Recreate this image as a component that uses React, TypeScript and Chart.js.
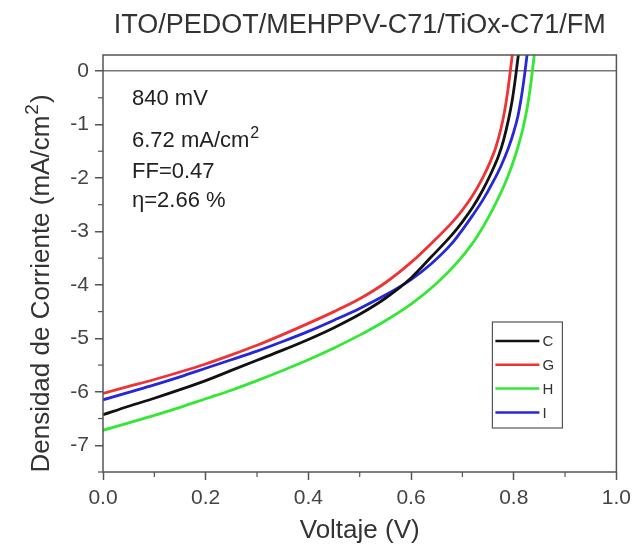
import React, { useEffect, useRef } from "react";
import { Chart, registerables } from "chart.js";

Chart.register(...registerables);

const FONT = "'Liberation Sans', Arial, Helvetica, sans-serif";

const titleText = "ITO/PEDOT/MEHPPV-C71/TiOx-C71/FM";
const xTitle = "Voltaje (V)";
const yTitleMain = "Densidad de Corriente (mA/cm";
const annotations = ["840 mV", "6.72 mA/cm", "FF=0.47", "\u03b7=2.66 %"];

const xTicks = [0, 0.2, 0.4, 0.6, 0.8, 1.0];
const xMinor = [0.1, 0.3, 0.5, 0.7, 0.9];
const yTicks = [-7, -6, -5, -4, -3, -2, -1, 0];
const yMinor = [-7.5, -6.5, -5.5, -4.5, -3.5, -2.5, -1.5, -0.5];

const labels = ["C", "G", "H", "I"];
const colors = ["#111111", "#f03232", "#33e833", "#2626dc"];

const vC = [0, 0.05, 0.1, 0.15, 0.2, 0.25, 0.3, 0.35, 0.4, 0.45, 0.5, 0.55, 0.6, 0.64, 0.68, 0.7, 0.72, 0.74, 0.755, 0.77, 0.78, 0.79, 0.797, 0.804, 0.81, 0.816];
const jC = [-6.43, -6.27, -6.12, -5.96, -5.79, -5.6, -5.41, -5.22, -5.02, -4.8, -4.55, -4.25, -3.87, -3.47, -3.06, -2.82, -2.55, -2.22, -1.93, -1.6, -1.3, -0.9, -0.55, -0.08, 0.38, 0.85];

const vG = [0, 0.05, 0.1, 0.15, 0.2, 0.25, 0.3, 0.35, 0.4, 0.45, 0.5, 0.55, 0.6, 0.64, 0.68, 0.7, 0.72, 0.74, 0.755, 0.765, 0.775, 0.782, 0.788, 0.794, 0.8];
const jG = [-6.03, -5.9, -5.77, -5.63, -5.48, -5.31, -5.13, -4.93, -4.72, -4.5, -4.26, -3.96, -3.58, -3.22, -2.83, -2.6, -2.33, -1.99, -1.68, -1.43, -1.08, -0.76, -0.4, 0.05, 0.52];

const vH = [0, 0.05, 0.1, 0.15, 0.2, 0.25, 0.3, 0.35, 0.4, 0.45, 0.5, 0.55, 0.6, 0.65, 0.69, 0.72, 0.74, 0.76, 0.78, 0.795, 0.808, 0.818, 0.826, 0.833, 0.839, 0.845];
const jH = [-6.72, -6.58, -6.44, -6.29, -6.13, -5.97, -5.79, -5.6, -5.4, -5.18, -4.94, -4.67, -4.36, -3.97, -3.58, -3.22, -2.92, -2.57, -2.17, -1.81, -1.43, -1.07, -0.7, -0.26, 0.22, 0.7];

const vI = [0, 0.05, 0.1, 0.15, 0.2, 0.25, 0.3, 0.35, 0.4, 0.45, 0.5, 0.55, 0.6, 0.64, 0.68, 0.7, 0.72, 0.74, 0.76, 0.775, 0.79, 0.8, 0.808, 0.815, 0.821, 0.827, 0.833];
const jI = [-6.15, -6.01, -5.87, -5.72, -5.56, -5.4, -5.24, -5.06, -4.87, -4.66, -4.44, -4.19, -3.9, -3.6, -3.22, -2.97, -2.7, -2.41, -2.07, -1.78, -1.43, -1.14, -0.85, -0.48, -0.08, 0.38, 0.85];

const seriesV = [vC, vG, vH, vI];
const seriesJ = [jC, jG, jH, jI];

function drawRich(ctx: CanvasRenderingContext2D, x: number, y: number, main: string, sup: string, tail: string, size: number) {
  ctx.font = `${size}px ${FONT}`;
  const w1 = ctx.measureText(main).width;
  ctx.fillText(main, x, y);
  const supSize = Math.round(size * 0.72);
  ctx.font = `${supSize}px ${FONT}`;
  const w2 = ctx.measureText(sup).width;
  ctx.fillText(sup, x + w1 + 1, y - size * 0.42);
  ctx.font = `${size}px ${FONT}`;
  if (tail) ctx.fillText(tail, x + w1 + w2 + 2, y);
}

function richWidth(ctx: CanvasRenderingContext2D, main: string, sup: string, tail: string, size: number) {
  ctx.font = `${size}px ${FONT}`;
  const a = ctx.measureText(main).width + ctx.measureText(tail).width;
  ctx.font = `${Math.round(size * 0.72)}px ${FONT}`;
  return a + ctx.measureText(sup).width + 2;
}

const overlay = {
  id: "overlay",
  afterDraw(chart: any) {
    const { ctx, chartArea: a, scales } = chart;
    ctx.save();
    // frame
    ctx.strokeStyle = "#555";
    ctx.lineWidth = 1.5;
    ctx.strokeRect(a.left, a.top, a.right - a.left, a.bottom - a.top);
    // minor ticks
    ctx.lineWidth = 1.2;
    xMinor.forEach((v) => {
      const px = scales.x.getPixelForValue(v);
      ctx.beginPath();
      ctx.moveTo(px, a.bottom);
      ctx.lineTo(px, a.bottom + 5);
      ctx.stroke();
    });
    yMinor.forEach((v) => {
      const py = scales.y.getPixelForValue(v);
      ctx.beginPath();
      ctx.moveTo(a.left, py);
      ctx.lineTo(a.left - 5, py);
      ctx.stroke();
    });
    // title
    ctx.fillStyle = "#333";
    ctx.font = `27px ${FONT}`;
    ctx.textAlign = "center";
    ctx.textBaseline = "alphabetic";
    ctx.fillText(titleText, (a.left + a.right) / 2, a.top - 22);
    // x title
    ctx.font = `26px ${FONT}`;
    ctx.fillText(xTitle, (a.left + a.right) / 2, a.bottom + 66);
    // y title
    ctx.textAlign = "left";
    const yw = richWidth(ctx, yTitleMain, "2", ")", 26);
    ctx.save();
    ctx.translate(a.left - 54, (a.top + a.bottom) / 2 + 20 + yw / 2);
    ctx.rotate(-Math.PI / 2);
    drawRich(ctx, 0, 0, yTitleMain, "2", ")", 26);
    ctx.restore();
    // annotations
    ctx.fillStyle = "#222";
    const ax = a.left + 29;
    ctx.font = `22px ${FONT}`;
    ctx.fillText(annotations[0], ax, a.top + 50);
    drawRich(ctx, ax, a.top + 92, annotations[1], "2", "", 22);
    ctx.font = `22px ${FONT}`;
    ctx.fillText(annotations[2], ax, a.top + 123);
    ctx.fillText(annotations[3], ax, a.top + 152);
    // legend
    const bx = a.right - 124;
    const by = a.top + 267;
    const bw = 70;
    const bh = 106;
    ctx.fillStyle = "#fff";
    ctx.fillRect(bx, by, bw, bh);
    ctx.strokeStyle = "#555";
    ctx.lineWidth = 1.2;
    ctx.strokeRect(bx, by, bw, bh);
    ctx.font = `15px ${FONT}`;
    ctx.textBaseline = "middle";
    chart.data.datasets.forEach((ds: any, i: number) => {
      const ly = by + 19 + i * 23.8;
      ctx.strokeStyle = ds.borderColor;
      ctx.lineWidth = 2.5;
      ctx.beginPath();
      ctx.moveTo(bx + 3, ly);
      ctx.lineTo(bx + 47, ly);
      ctx.stroke();
      ctx.fillStyle = "#333";
      ctx.fillText(ds.label, bx + 50, ly + 1);
    });
    ctx.restore();
  },
};

export default function App() {
  const ref = useRef<HTMLCanvasElement | null>(null);
  useEffect(() => {
    if (!ref.current) return;
    const chart = new Chart(ref.current, {
      type: "line",
      data: {
        datasets: labels.map((l, i) => ({
          label: l,
          data: seriesV[i].map((v, k) => ({ x: v, y: seriesJ[i][k] })),
          borderColor: colors[i],
          backgroundColor: colors[i],
          borderWidth: 2.8,
          pointRadius: 0,
          fill: false,
          cubicInterpolationMode: "monotone" as const,
        })),
      },
      options: {
        animation: false,
        responsive: true,
        maintainAspectRatio: false,
        layout: { padding: { top: 55, right: 20, left: 0, bottom: 0 } },
        plugins: { legend: { display: false }, tooltip: { enabled: false }, title: { display: false } },
        scales: {
          x: {
            type: "linear",
            min: 0,
            max: 1,
            afterBuildTicks: (s: any) => {
              s.ticks = xTicks.map((v) => ({ value: v }));
            },
            afterFit: (s: any) => {
              s.height = 75;
            },
            grid: { drawOnChartArea: false, drawTicks: true, tickLength: 8, tickColor: "#555", tickWidth: 1.5 },
            border: { display: false },
            ticks: {
              font: { family: FONT, size: 21 },
              color: "#444",
              padding: 6,
              maxRotation: 0,
              callback: (v: any) => Number(v).toFixed(1),
            },
          },
          y: {
            type: "linear",
            min: -7.5,
            max: 0.3,
            afterBuildTicks: (s: any) => {
              s.ticks = yTicks.map((v) => ({ value: v }));
            },
            afterFit: (s: any) => {
              s.width = 103;
            },
            grid: {
              drawOnChartArea: true,
              drawTicks: true,
              tickLength: 8,
              tickColor: "#555",
              tickWidth: 1.5,
              lineWidth: 1.5,
              color: (c: any) => (c.tick && c.tick.value === 0 ? "#777" : "rgba(0,0,0,0)"),
            },
            border: { display: false },
            ticks: {
              font: { family: FONT, size: 21 },
              color: "#444",
              padding: 6,
              callback: (v: any) => String(Number(v)),
            },
          },
        },
      },
      plugins: [overlay],
    });
    return () => chart.destroy();
  }, []);
  return (
    <div style={{ position: "fixed", left: 0, top: 0, width: 637, height: 547, background: "#fff" }}>
      <canvas ref={ref} />
    </div>
  );
}
